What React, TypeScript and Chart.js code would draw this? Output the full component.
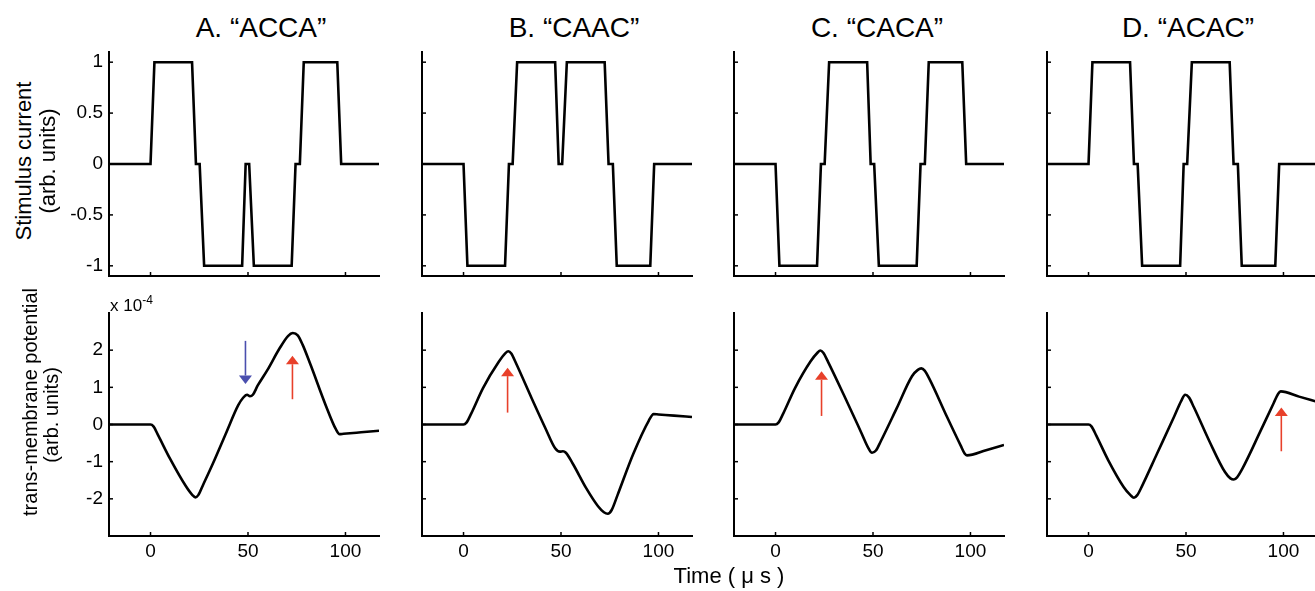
import React, { useEffect, useRef } from "react";
import { Chart, registerables } from "chart.js";

Chart.register(...registerables);

const FONT = "'Liberation Sans', Arial, Helvetica, sans-serif";

// Panel titles
const titles = ["A. \u201CACCA\u201D", "B. \u201CCAAC\u201D", "C. \u201CCACA\u201D", "D. \u201CACAC\u201D"];
const titleCenters = [261, 574, 877, 1188];

// Axis ticks
const xTicks = [0, 50, 100];
const stimTicks = [-1, -0.5, 0, 0.5, 1];
const potTicks = [-2, -1, 0, 1, 2];

// Stimulus current (time in µs, arb. units)
const stimT = [-21.3, 0, 2, 21.3, 23.3, 25.2, 27.5, 47, 48.8, 50.6, 53, 72.4, 74.4, 76.6, 78.6, 95.8, 97.8, 117.2];
const stimA = [0, 0, 1, 1, 0, 0, -1, -1, 0, 0, -1, -1, 0, 0, 1, 1, 0, 0];
const stimB = [0, 0, -1, -1, 0, 0, 1, 1, 0, 0, 1, 1, 0, 0, -1, -1, 0, 0];
const stimC = [0, 0, -1, -1, 0, 0, 1, 1, 0, 0, -1, -1, 0, 0, 1, 1, 0, 0];
const stimD = [0, 0, 1, 1, 0, 0, -1, -1, 0, 0, 1, 1, 0, 0, -1, -1, 0, 0];

// Trans-membrane potential (x 1e-4, arb. units)
const potTA = [-21.3, 0, 1.5, 4, 10, 18, 21.5, 23, 24.5, 27, 32, 39, 45, 47.5, 49.5, 51, 52.5, 55, 60, 66, 70.5, 73, 75.5, 78, 82, 90, 95, 97, 99, 108, 117.2];
const potVA = [0, 0, -0.05, -0.3, -0.92, -1.65, -1.9, -1.96, -1.9, -1.62, -1.05, -0.2, 0.52, 0.72, 0.8, 0.76, 0.8, 1.05, 1.47, 2.03, 2.38, 2.46, 2.4, 2.15, 1.62, 0.5, -0.12, -0.26, -0.25, -0.21, -0.17];

const potTB = [-21.3, 0, 1.5, 4, 10, 18, 21.5, 23, 24.5, 27, 35, 42, 47, 49.5, 51, 52.5, 56, 63, 69, 72, 74, 76, 79, 87, 95, 97.5, 100, 108, 117.2];
const potVB = [0, 0, 0.05, 0.3, 0.98, 1.68, 1.92, 1.97, 1.91, 1.64, 0.7, -0.1, -0.64, -0.73, -0.72, -0.76, -1.05, -1.72, -2.2, -2.36, -2.4, -2.3, -1.9, -0.8, 0.1, 0.28, 0.27, 0.24, 0.2];

const potTC = [-21.3, 0, 1.5, 4, 10, 18, 21.5, 23, 24.5, 27, 35, 44, 47.5, 49.5, 51.5, 54, 62, 70, 73, 74.8, 76.5, 79, 88, 95, 97, 98.2, 108, 117.2];
const potVC = [0, 0, 0.05, 0.3, 0.98, 1.7, 1.93, 1.99, 1.93, 1.68, 0.8, -0.22, -0.62, -0.76, -0.7, -0.45, 0.42, 1.3, 1.47, 1.51, 1.45, 1.22, 0.2, -0.57, -0.78, -0.83, -0.69, -0.55];

const potTD = [-21.3, 0, 1.5, 4, 10, 18, 21.5, 23.3, 25, 27.5, 35, 44, 47.5, 49.6, 51.5, 54, 62, 70, 72.8, 74.5, 76.2, 79, 88, 95, 97.3, 98.6, 108, 117.2];
const potVD = [0, 0, -0.05, -0.3, -0.95, -1.68, -1.9, -1.97, -1.9, -1.65, -0.8, 0.22, 0.63, 0.8, 0.73, 0.47, -0.45, -1.28, -1.45, -1.48, -1.42, -1.18, -0.2, 0.58, 0.83, 0.89, 0.75, 0.61];

// Arrow annotations (bottom row)
const arrowPanel = [0, 0, 1, 2, 3];
const arrowT = [48.7, 72.8, 22.6, 23.6, 98.9];
const arrowFrom = [2.25, 0.68, 0.32, 0.23, -0.72];
const arrowTo = [1.09, 1.85, 1.53, 1.43, 0.46];
const arrowColor = ["#4a4fae", "#e8402a", "#e8402a", "#e8402a", "#e8402a"];

// Layout
const X_MIN = -21.3;
const X_MAX = 117.2;
const AXIS_X = [109, 422, 734, 1047];
const PLOT_W = 270;
const PAD_L = 70;
const PAD_T = 12;
const PAD_R = 12;
const X_AXIS_H = 40;

type ArrowSpec = { t: number; from: number; to: number; color: string };

function makeTickPlugin() {
  return {
    id: "inwardTicks",
    afterDraw(chart: any) {
      const { ctx, chartArea, scales } = chart;
      const x = scales.x;
      const y = scales.y;
      ctx.save();
      ctx.strokeStyle = "#000";
      ctx.lineWidth = 1.5;
      x.ticks.forEach((tk: any) => {
        const px = x.getPixelForValue(tk.value);
        ctx.beginPath();
        ctx.moveTo(px, chartArea.bottom);
        ctx.lineTo(px, chartArea.bottom - 4);
        ctx.stroke();
      });
      y.ticks.forEach((tk: any) => {
        const py = y.getPixelForValue(tk.value);
        ctx.beginPath();
        ctx.moveTo(chartArea.left, py);
        ctx.lineTo(chartArea.left + 4, py);
        ctx.stroke();
      });
      ctx.restore();
    },
  };
}

function makeArrowPlugin(arrows: ArrowSpec[]) {
  return {
    id: "arrows",
    afterDatasetsDraw(chart: any) {
      const { ctx, scales } = chart;
      const x = scales.x;
      const y = scales.y;
      arrows.forEach((a) => {
        const px = x.getPixelForValue(a.t);
        const y1 = y.getPixelForValue(a.from);
        const y2 = y.getPixelForValue(a.to);
        const dir = y2 > y1 ? 1 : -1;
        const headL = 8.5;
        const headW = 6.5;
        ctx.save();
        ctx.strokeStyle = a.color;
        ctx.fillStyle = a.color;
        ctx.lineWidth = 1.6;
        ctx.beginPath();
        ctx.moveTo(px, y1);
        ctx.lineTo(px, y2 - dir * headL);
        ctx.stroke();
        ctx.beginPath();
        ctx.moveTo(px, y2);
        ctx.lineTo(px - headW, y2 - dir * headL);
        ctx.lineTo(px + headW, y2 - dir * headL);
        ctx.closePath();
        ctx.fill();
        ctx.restore();
      });
    },
  };
}

type PanelProps = {
  axisX: number;
  plotTop: number;
  plotH: number;
  t: number[];
  v: number[];
  yMin: number;
  yMax: number;
  yTicks: number[];
  showY: boolean;
  showX: boolean;
  smooth: boolean;
  arrows: ArrowSpec[];
};

function Panel(p: PanelProps) {
  const ref = useRef<HTMLCanvasElement>(null);
  const width = PAD_L + PLOT_W + PAD_R;
  const height = PAD_T + p.plotH + X_AXIS_H;
  useEffect(() => {
    const chart = new Chart(ref.current as HTMLCanvasElement, {
      type: "line",
      data: {
        datasets: [
          {
            data: p.t.map((x, i) => ({ x, y: p.v[i] })),
            borderColor: "#000",
            borderWidth: 2.6,
            pointRadius: 0,
            fill: false,
            tension: 0,
            cubicInterpolationMode: p.smooth ? "monotone" : "default",
            borderJoinStyle: "miter",
          } as any,
        ],
      },
      options: {
        animation: false,
        responsive: false,
        maintainAspectRatio: false,
        devicePixelRatio: 1,
        events: [],
        layout: { padding: { top: PAD_T, right: PAD_R, left: 0, bottom: 0 } },
        plugins: {
          legend: { display: false },
          tooltip: { enabled: false },
          title: { display: false },
        },
        scales: {
          x: {
            type: "linear",
            min: X_MIN,
            max: X_MAX,
            afterBuildTicks: (s: any) => {
              s.ticks = xTicks.map((value) => ({ value }));
            },
            afterFit: (s: any) => {
              s.height = X_AXIS_H;
              s.paddingLeft = 0;
              s.paddingRight = 0;
              s.paddingTop = 0;
              s.paddingBottom = 0;
            },
            grid: { display: false, drawTicks: false },
            border: { display: true, color: "#000", width: 2 },
            ticks: {
              display: p.showX,
              padding: 4,
              color: "#000",
              maxRotation: 0,
              autoSkip: false,
              font: { family: FONT, size: 19 },
              callback: (val: any) => String(val),
            },
          },
          y: {
            type: "linear",
            min: p.yMin,
            max: p.yMax,
            afterBuildTicks: (s: any) => {
              s.ticks = p.yTicks.map((value) => ({ value }));
            },
            afterFit: (s: any) => {
              s.width = PAD_L;
              s.paddingLeft = 0;
              s.paddingRight = 0;
              s.paddingTop = 0;
              s.paddingBottom = 0;
            },
            grid: { display: false, drawTicks: false },
            border: { display: true, color: "#000", width: 2 },
            ticks: {
              display: p.showY,
              padding: 6,
              color: "#000",
              autoSkip: false,
              font: { family: FONT, size: 19 },
              callback: (val: any) => String(val),
            },
          },
        },
      } as any,
      plugins: [makeTickPlugin(), makeArrowPlugin(p.arrows)] as any,
    });
    return () => chart.destroy();
  }, []);
  return (
    <canvas
      ref={ref}
      width={width}
      height={height}
      style={{ position: "absolute", left: p.axisX - PAD_L, top: p.plotTop - PAD_T, width, height }}
    />
  );
}

const textBase: React.CSSProperties = {
  position: "absolute",
  fontFamily: FONT,
  color: "#000",
  whiteSpace: "nowrap",
  lineHeight: 1,
};

function VLabel({ text, cx, cy, size }: { text: string; cx: number; cy: number; size: number }) {
  return (
    <div
      style={{
        ...textBase,
        left: cx,
        top: cy,
        fontSize: size,
        transform: "translate(-50%, -50%) rotate(-90deg)",
      }}
    >
      {text}
    </div>
  );
}

export default function App() {
  const stims = [stimA, stimB, stimC, stimD];
  const potT = [potTA, potTB, potTC, potTD];
  const potV = [potVA, potVB, potVC, potVD];
  return (
    <div
      style={{
        position: "absolute",
        left: 0,
        top: 0,
        width: 1315,
        height: 591,
        overflow: "hidden",
        background: "#fff",
      }}
    >
      {titles.map((tt, i) => (
        <div
          key={"t" + i}
          style={{ ...textBase, left: titleCenters[i], top: 13.5, fontSize: 28, transform: "translateX(-50%)" }}
        >
          {tt}
        </div>
      ))}
      {AXIS_X.map((ax, i) => (
        <Panel
          key={"s" + i}
          axisX={ax}
          plotTop={52}
          plotH={224}
          t={stimT}
          v={stims[i]}
          yMin={-1.1}
          yMax={1.1}
          yTicks={stimTicks}
          showY={i === 0}
          showX={false}
          smooth={false}
          arrows={[]}
        />
      ))}
      {AXIS_X.map((ax, i) => (
        <Panel
          key={"p" + i}
          axisX={ax}
          plotTop={313}
          plotH={223}
          t={potT[i]}
          v={potV[i]}
          yMin={-3}
          yMax={3}
          yTicks={potTicks}
          showY={i === 0}
          showX={true}
          smooth={true}
          arrows={arrowPanel
            .map((pi, k) => ({ pi, t: arrowT[k], from: arrowFrom[k], to: arrowTo[k], color: arrowColor[k] }))
            .filter((a) => a.pi === i)}
        />
      ))}
      <VLabel text="Stimulus current" cx={24} cy={161} size={22} />
      <VLabel text="(arb. units)" cx={47.5} cy={161} size={22} />
      <VLabel text="trans-membrane potential" cx={29.5} cy={402} size={20} />
      <VLabel text="(arb. units)" cx={51} cy={415} size={20} />
      <div style={{ ...textBase, left: 110, top: 294, fontSize: 17 }}>
        x 10<sup style={{ fontSize: 12, verticalAlign: "7px" }}>-4</sup>
      </div>
      <div style={{ ...textBase, left: 729, top: 565, fontSize: 22, transform: "translateX(-50%)" }}>
        Time ( μ s )
      </div>
    </div>
  );
}
